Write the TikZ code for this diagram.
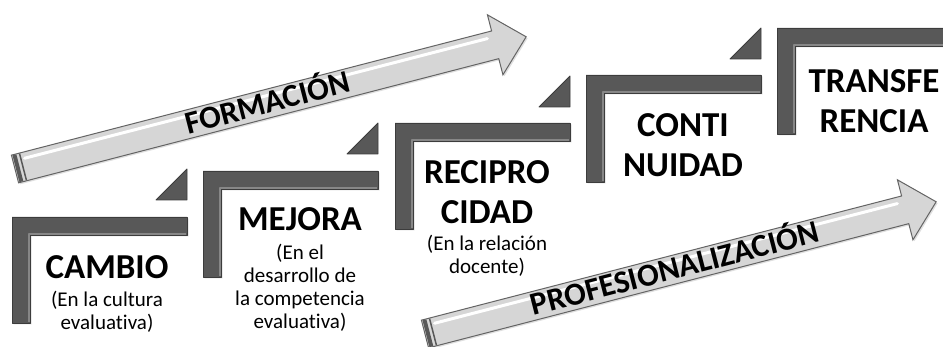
\documentclass[tikz,border=0pt]{standalone}
\usepackage{fontspec}
\setmainfont[Ligatures=NoCommon]{Carlito}
\usetikzlibrary{shadows}
\definecolor{stepgray}{RGB}{88,88,88}
\definecolor{stepedge}{RGB}{60,60,60}
\definecolor{stepshine}{RGB}{135,135,135}
\definecolor{arrowfill}{RGB}{214,214,214}
\definecolor{arrowedge}{RGB}{100,100,100}
\definecolor{tailgray}{RGB}{88,88,88}
\begin{document}
\begin{tikzpicture}[x=1pt,y=-1pt,
  stepbar/.style={fill=stepgray,draw=stepedge,line width=0.8pt,line join=round,
    drop shadow={shadow xshift=1.5pt,shadow yshift=-1.5pt,opacity=0.25}},
  stepcorner/.style={fill=stepgray,draw=stepedge,line width=0.8pt,line join=round},
  stepbevel/.style={draw=stepshine,line width=1.6pt,line join=round},
  steptitle/.style={align=center,font=\bfseries\fontsize{35}{40}\selectfont},
  stepnote/.style={align=center,font=\fontsize{21}{23}\selectfont},
  bigarrow/.style={fill=arrowfill,draw=arrowedge,line width=1pt,line join=miter,
    drop shadow={shadow xshift=1.5pt,shadow yshift=-1.5pt,opacity=0.25}},
  arrowtext/.style={anchor=base,rotate=14.5,font=\bfseries\fontsize{32}{36}\selectfont}]
  \useasboundingbox (0,0) rectangle (943,347);
  % The five steps climb to the right, each with a wedge above its end.
  \draw[stepbar] (12,217) -- (187,217) -- (187,235) -- (30,235) -- (30,323) -- (12,323) -- cycle;
  \draw[stepbevel] (186,234) -- (29,234) -- (29,322);
  \draw[stepcorner] (156,200) -- (187,169) -- (187,200) -- cycle;
  \draw[stepbar] (203,171) -- (378,171) -- (378,189) -- (221,189) -- (221,277) -- (203,277) -- cycle;
  \draw[stepbevel] (377,188) -- (220,188) -- (220,276);
  \draw[stepcorner] (347,154) -- (378,123) -- (378,154) -- cycle;
  \draw[stepbar] (395,123) -- (570,123) -- (570,141) -- (413,141) -- (413,229) -- (395,229) -- cycle;
  \draw[stepbevel] (569,140) -- (412,140) -- (412,228);
  \draw[stepcorner] (539,107) -- (570,76) -- (570,107) -- cycle;
  \draw[stepbar] (586,75) -- (761,75) -- (761,93) -- (604,93) -- (604,182) -- (586,182) -- cycle;
  \draw[stepbevel] (760,92) -- (603,92) -- (603,181);
  \draw[stepcorner] (730,59) -- (761,28) -- (761,59) -- cycle;
  \draw[stepbar] (777,28) -- (960,28) -- (960,46) -- (795,46) -- (795,134) -- (777,134) -- cycle;
  \draw[stepbevel] (960,45) -- (794,45) -- (794,133);
  \node[steptitle] (cambio) at (107,267) {CAMBIO};
  \node[stepnote] (cambionote) at (107,312) {(En la cultura\\evaluativa)};
  \node[steptitle] (mejora) at (300,219) {MEJORA};
  \node[stepnote] (mejoranote) at (300,288) {(En el\\desarrollo de\\la competencia\\evaluativa)};
  \node[steptitle] (reciprocidad) at (487,192) {RECIPRO\\CIDAD};
  \node[stepnote] (reciprocidadnote) at (487,256) {(En la relación\\docente)};
  \node[steptitle] (continuidad) at (683,145) {CONTI\\NUIDAD};
  \node[steptitle] (transferencia) at (874,101) {TRANSFE\\RENCIA};
  % Upper arrow.
  \begin{scope}[shift={(15,169)},rotate=14.5]
    \draw[bigarrow] (0,-14.3) -- (496,-14.3) -- (496,-31) -- (528,0) -- (496,31) -- (496,14.3) -- (0,14.3) -- cycle;
    \fill[tailgray] (1,-13.8) rectangle (5,13.8);
    \fill[tailgray] (7.5,-13.8) rectangle (9,13.8);
    \draw[white,line width=3pt,line cap=round] (12,-8) -- (490,-8);
    \node[arrowtext] (formacion) at (261,9.5) {FORMACIÓN};
  \end{scope}
  % Lower arrow.
  \begin{scope}[shift={(425,334)},rotate=14.5]
    \draw[bigarrow] (0,-14.3) -- (496,-14.3) -- (496,-31) -- (528,0) -- (496,31) -- (496,14.3) -- (0,14.3) -- cycle;
    \fill[tailgray] (1,-13.8) rectangle (5,13.8);
    \fill[tailgray] (7.5,-13.8) rectangle (9,13.8);
    \draw[white,line width=3pt,line cap=round] (12,-8) -- (490,-8);
    \node[arrowtext] (profesionalizacion) at (258,9.5) {PROFESIONALIZACIÓN};
  \end{scope}
\end{tikzpicture}
\end{document}
